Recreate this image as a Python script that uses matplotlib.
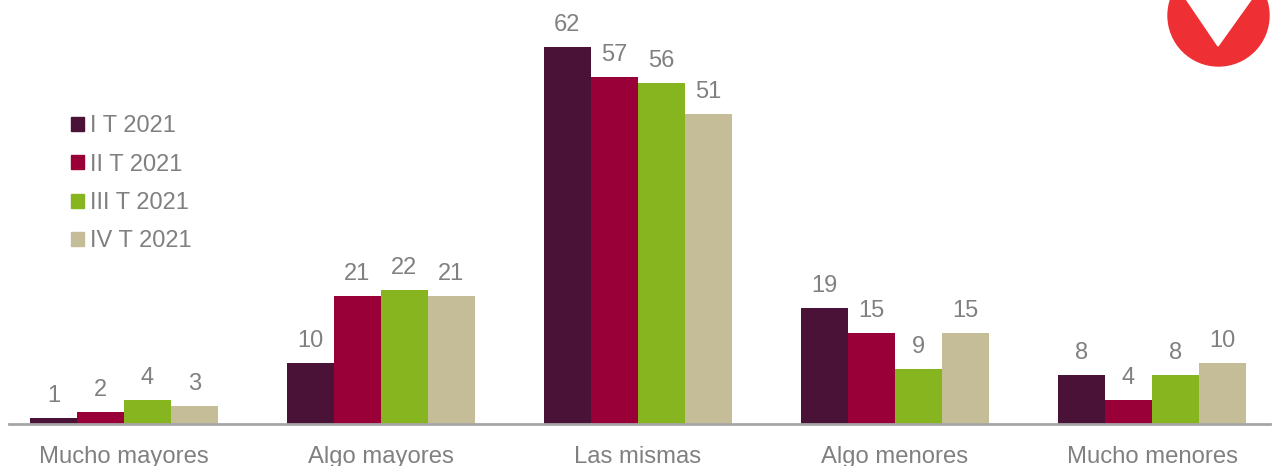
import matplotlib.pyplot as plt
from matplotlib.patches import Circle, Polygon, Patch
import numpy as np

categories = ['Mucho mayores', 'Algo mayores', 'Las mismas', 'Algo menores', 'Mucho menores']
series = ['I T 2021', 'II T 2021', 'III T 2021', 'IV T 2021']
t1 = [1, 10, 62, 19, 8]
t2 = [2, 21, 57, 15, 4]
t3 = [4, 22, 56, 9, 8]
t4 = [3, 21, 51, 15, 10]
values = [t1, t2, t3, t4]
colors = ['#4B1238', '#990038', '#86B520', '#C5BD97']
grey = '#808080'

plt.rcParams['font.family'] = ['Liberation Sans', 'DejaVu Sans']

fig = plt.figure(figsize=(12.76, 4.66), dpi=100)
# main axes, in pixels: x 9..1270, baseline at y=424
ax = fig.add_axes([9 / 1276, 42 / 466, 1261 / 1276, 424 / 466])

x = np.arange(len(categories))
w = 0.183
for i, (vals, c) in enumerate(zip(values, colors)):
    pos = x + (i - 1.5) * w
    ax.bar(pos, vals, width=w, color=c, label=series[i])
    for xp, v in zip(pos, vals):
        ax.text(xp, v + 2.65, str(v), ha='center', va='baseline', fontsize=17, color=grey)

ax.set_xlim(-0.447, 4.459)
ax.set_ylim(0, 69.7)
ax.set_xticks(x)
ax.set_xticklabels(categories, fontsize=17.2, color=grey)
ax.tick_params(axis='x', length=0, pad=16)
ax.set_yticks([])
for s in ['top', 'right', 'left']:
    ax.spines[s].set_visible(False)
ax.spines['bottom'].set_color('#A6A6A6')
ax.spines['bottom'].set_linewidth(2)

handles = [Patch(color=c) for c in colors]
leg = fig.legend(handles, series, loc='upper left', bbox_to_anchor=(62 / 1276, 1 - 106 / 466),
                 frameon=False, fontsize=17, handlelength=0.55, handleheight=0.55,
                 handletextpad=0.25, labelspacing=0.69, borderaxespad=0)
for t in leg.get_texts():
    t.set_color(grey)

# logo overlay in pixel coordinates
lg = fig.add_axes([0, 0, 1, 1], zorder=5)
lg.set_xlim(0, 1276)
lg.set_ylim(466, 0)
lg.axis('off')
lg.add_patch(Circle((1218.5, 15.5), 50.5, color='#EE3035'))
lg.add_patch(Polygon([(1180, -10), (1218, 46), (1258, -10)], closed=True, color='white'))

fig.savefig('out.png', dpi=100)
